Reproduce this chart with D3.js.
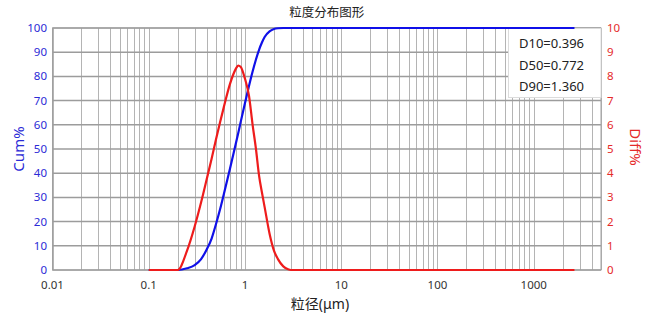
<!DOCTYPE html>
<html>
<head>
<meta charset="utf-8">
<script src="https://cdn.jsdelivr.net/npm/d3@7"></script>
<style>
  body { margin: 0; background: #fff; }
  svg text { font-family: "Noto Sans", "Noto Sans CJK SC", sans-serif; }
</style>
</head>
<body>
<div id="chart"></div>
<script>
// particle size (um) and the two read-off series
var sizes = [0.1, 0.12, 0.15, 0.2, 0.25, 0.3, 0.35, 0.4, 0.45, 0.5, 0.55, 0.6, 0.7, 0.8, 0.85, 0.9, 1.0, 1.1, 1.2, 1.3, 1.4, 1.5, 1.6, 1.8, 2.0, 2.2, 2.5, 2.8, 3.0, 4, 5, 7, 10, 20, 50, 100, 200, 500, 1000, 2000, 2650];
var cum   = [0, 0, 0, 0, 0.7, 2, 4.5, 8.5, 13, 19, 25, 31, 42, 52, 56.5, 61, 69, 76, 82, 87, 91, 94, 96.3, 98.6, 99.6, 99.9, 100, 100, 100, 100, 100, 100, 100, 100, 100, 100, 100, 100, 100, 100, 100];
var diff  = [0, 0, 0, 0, 0.8, 1.8, 2.8, 3.75, 4.6, 5.4, 6.1, 6.7, 7.7, 8.3, 8.45, 8.4, 7.9, 7.2, 6.0, 5.0, 3.9, 3.2, 2.6, 1.5, 0.8, 0.45, 0.15, 0.03, 0, 0, 0, 0, 0, 0, 0, 0, 0, 0, 0, 0, 0];

var xTickLabels = [0.01, 0.1, 1, 10, 100, 1000];
var cumTicks = [0, 10, 20, 30, 40, 50, 60, 70, 80, 90, 100];
var diffTicks = [0, 1, 2, 3, 4, 5, 6, 7, 8, 9, 10];
var dLabels = ['D10=0.396', 'D50=0.772', 'D90=1.360'];

var width = 650, height = 319;
var pLeft = 52.5, pRight = 601, pTop = 28, pBottom = 270;

var svg = d3.select('#chart').append('svg')
  .attr('width', width)
  .attr('height', height);

var x = d3.scaleLog().domain([0.01, 5000]).range([pLeft, pRight]);
var yCum = d3.scaleLinear().domain([0, 100]).range([pBottom, pTop]);
var yDiff = d3.scaleLinear().domain([0, 10]).range([pBottom, pTop]);

// grid
var grid = svg.append('g');
grid.selectAll('line.v')
  .data(x.ticks())
  .enter().append('line')
  .attr('class', 'v')
  .attr('x1', function (d) { return Math.round(x(d)) + 0.5; })
  .attr('x2', function (d) { return Math.round(x(d)) + 0.5; })
  .attr('y1', pTop).attr('y2', pBottom)
  .attr('stroke', '#b4b4b4').attr('stroke-width', 1);

grid.selectAll('line.h')
  .data(cumTicks)
  .enter().append('line')
  .attr('class', 'h')
  .attr('x1', pLeft).attr('x2', pRight)
  .attr('y1', function (d) { return yCum(d); })
  .attr('y2', function (d) { return yCum(d); })
  .attr('stroke', '#9c9c9c').attr('stroke-width', 1.5);

// frame
svg.append('rect')
  .attr('x', pLeft).attr('y', pTop)
  .attr('width', pRight - pLeft).attr('height', pBottom - pTop)
  .attr('fill', 'none').attr('stroke', '#a0a0a0').attr('stroke-width', 1);

// D values box (sits under the top of the cum curve)
svg.append('rect')
  .attr('x', 508.5).attr('y', 28.5)
  .attr('width', pRight - 508.5).attr('height', 69)
  .attr('fill', '#fff').attr('stroke', '#dcdcdc');

// curves
var pts = sizes.map(function (s, i) { return { s: s, c: cum[i], d: diff[i] }; });

var cumLine = d3.line()
  .x(function (d) { return x(d.s); })
  .y(function (d) { return yCum(d.c); })
  .curve(d3.curveMonotoneX);

var diffLine = d3.line()
  .x(function (d) { return x(d.s); })
  .y(function (d) { return yDiff(d.d); })
  .curve(d3.curveMonotoneX);

svg.append('path').datum(pts)
  .attr('d', cumLine)
  .attr('fill', 'none').attr('stroke', '#1010e8').attr('stroke-width', 2.2);

svg.append('path').datum(pts)
  .attr('d', diffLine)
  .attr('fill', 'none').attr('stroke', '#ee1c1c').attr('stroke-width', 2.2);

svg.selectAll('text.dval')
  .data(dLabels)
  .enter().append('text')
  .attr('class', 'dval')
  .attr('x', 519)
  .attr('y', function (d, i) { return 48 + i * 21.5; })
  .attr('font-size', 13)
  .attr('fill', '#222')
  .text(function (d) { return d; });

// axes labels
svg.append('g').selectAll('text')
  .data(cumTicks)
  .enter().append('text')
  .attr('x', 47)
  .attr('y', function (d) { return yCum(d) + 4; })
  .attr('text-anchor', 'end')
  .attr('font-size', 11.5)
  .attr('fill', '#2b2bd6')
  .text(function (d) { return d; });

svg.append('g').selectAll('text')
  .data(diffTicks)
  .enter().append('text')
  .attr('x', 607)
  .attr('y', function (d) { return yDiff(d) + 4; })
  .attr('font-size', 11.5)
  .attr('fill', '#e52a2a')
  .text(function (d) { return d; });

svg.append('g').selectAll('text')
  .data(xTickLabels)
  .enter().append('text')
  .attr('x', function (d) { return x(d); })
  .attr('y', 289)
  .attr('text-anchor', 'middle')
  .attr('font-size', 11.5)
  .attr('fill', '#333')
  .text(function (d) { return d; });

svg.append('text')
  .attr('x', (pLeft + pRight) / 2).attr('y', 17)
  .attr('text-anchor', 'middle')
  .attr('font-size', 12.5)
  .attr('fill', '#222')
  .text('粒度分布图形');

svg.append('text')
  .attr('x', 320).attr('y', 309)
  .attr('text-anchor', 'middle')
  .attr('font-size', 14)
  .attr('fill', '#222')
  .text('粒径(μm)');

svg.append('text')
  .attr('transform', 'translate(24,149) rotate(-90)')
  .attr('text-anchor', 'middle')
  .attr('font-size', 15)
  .attr('fill', '#2b2bd6')
  .text('Cum%');

svg.append('text')
  .attr('transform', 'translate(630,147) rotate(90)')
  .attr('text-anchor', 'middle')
  .attr('font-size', 15)
  .attr('fill', '#e52a2a')
  .text('Diff%');
</script>
</body>
</html>
